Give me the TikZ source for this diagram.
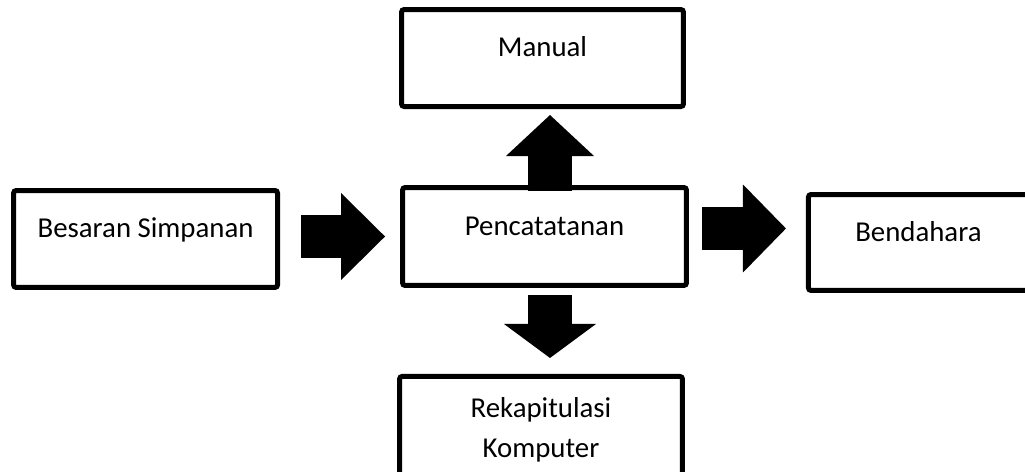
\documentclass[tikz,border=0pt]{standalone}
\usepackage{fontspec}
\setmainfont{Carlito}
\usetikzlibrary{arrows.meta}
\usetikzlibrary{positioning}

\tikzset{
  box/.style={draw, line width=0.1cm, rounded corners=1.5pt, align=center,
    font=\fontsize{16.4}{23}\selectfont},
  topbox/.style={box, text height=0.35cm, text depth=0.4cm},
  fatarrow/.style 2 args={line width=0.87cm,
    -{Triangle[length=#1, width=#2, line width=0pt]}},
}

\begin{document}
\begin{tikzpicture}[x=0.02cm, y=-0.02cm]
    \clip (0,0) rectangle (1025,472);
    % Place nodes
    \node [topbox, minimum width=5.68cm, minimum height=1.96cm] (pen) at (544.5,236.5) {Pencatatanan};
    \node [topbox, minimum width=5.64cm, minimum height=1.94cm, above=1.52cm of pen, xshift=-0.04cm] (man) {Manual};
    \node [topbox, minimum width=5.28cm, minimum height=1.94cm, left=2.4cm of pen, yshift=-0.05cm] (bes) {Besaran Simpanan};
    \node [topbox, minimum width=4.4cm, minimum height=1.92cm, right=2.34cm of pen, yshift=-0.12cm] (bend) {Bendahara};
    \node [box, minimum width=5.66cm, minimum height=2.14cm, below=1.72cm of pen, xshift=-0.07cm] (rek) {Rekapitulasi\\Komputer};

    % Block arrows
    \draw [fatarrow={0.88cm}{1.74cm}, shorten <=0.42cm, shorten >=0.3cm] (bes.east |- pen.west) -- (pen.west);
    \draw [fatarrow={0.86cm}{1.76cm}, transform canvas={yshift=0.16cm}, shorten <=0.26cm, shorten >=0.4cm] (pen.east) -- (pen.east -| bend.west);
    \draw [fatarrow={0.82cm}{1.76cm}, transform canvas={xshift=0.11cm}, shorten <=-0.12cm, shorten >=0.12cm] (pen.north) -- (pen.north |- man.south);
    \draw [fatarrow={0.68cm}{1.84cm}, transform canvas={xshift=0.11cm}, shorten <=0.14cm, shorten >=0.32cm] (pen.south) -- (pen.south |- rek.north);
\end{tikzpicture}
\end{document}
